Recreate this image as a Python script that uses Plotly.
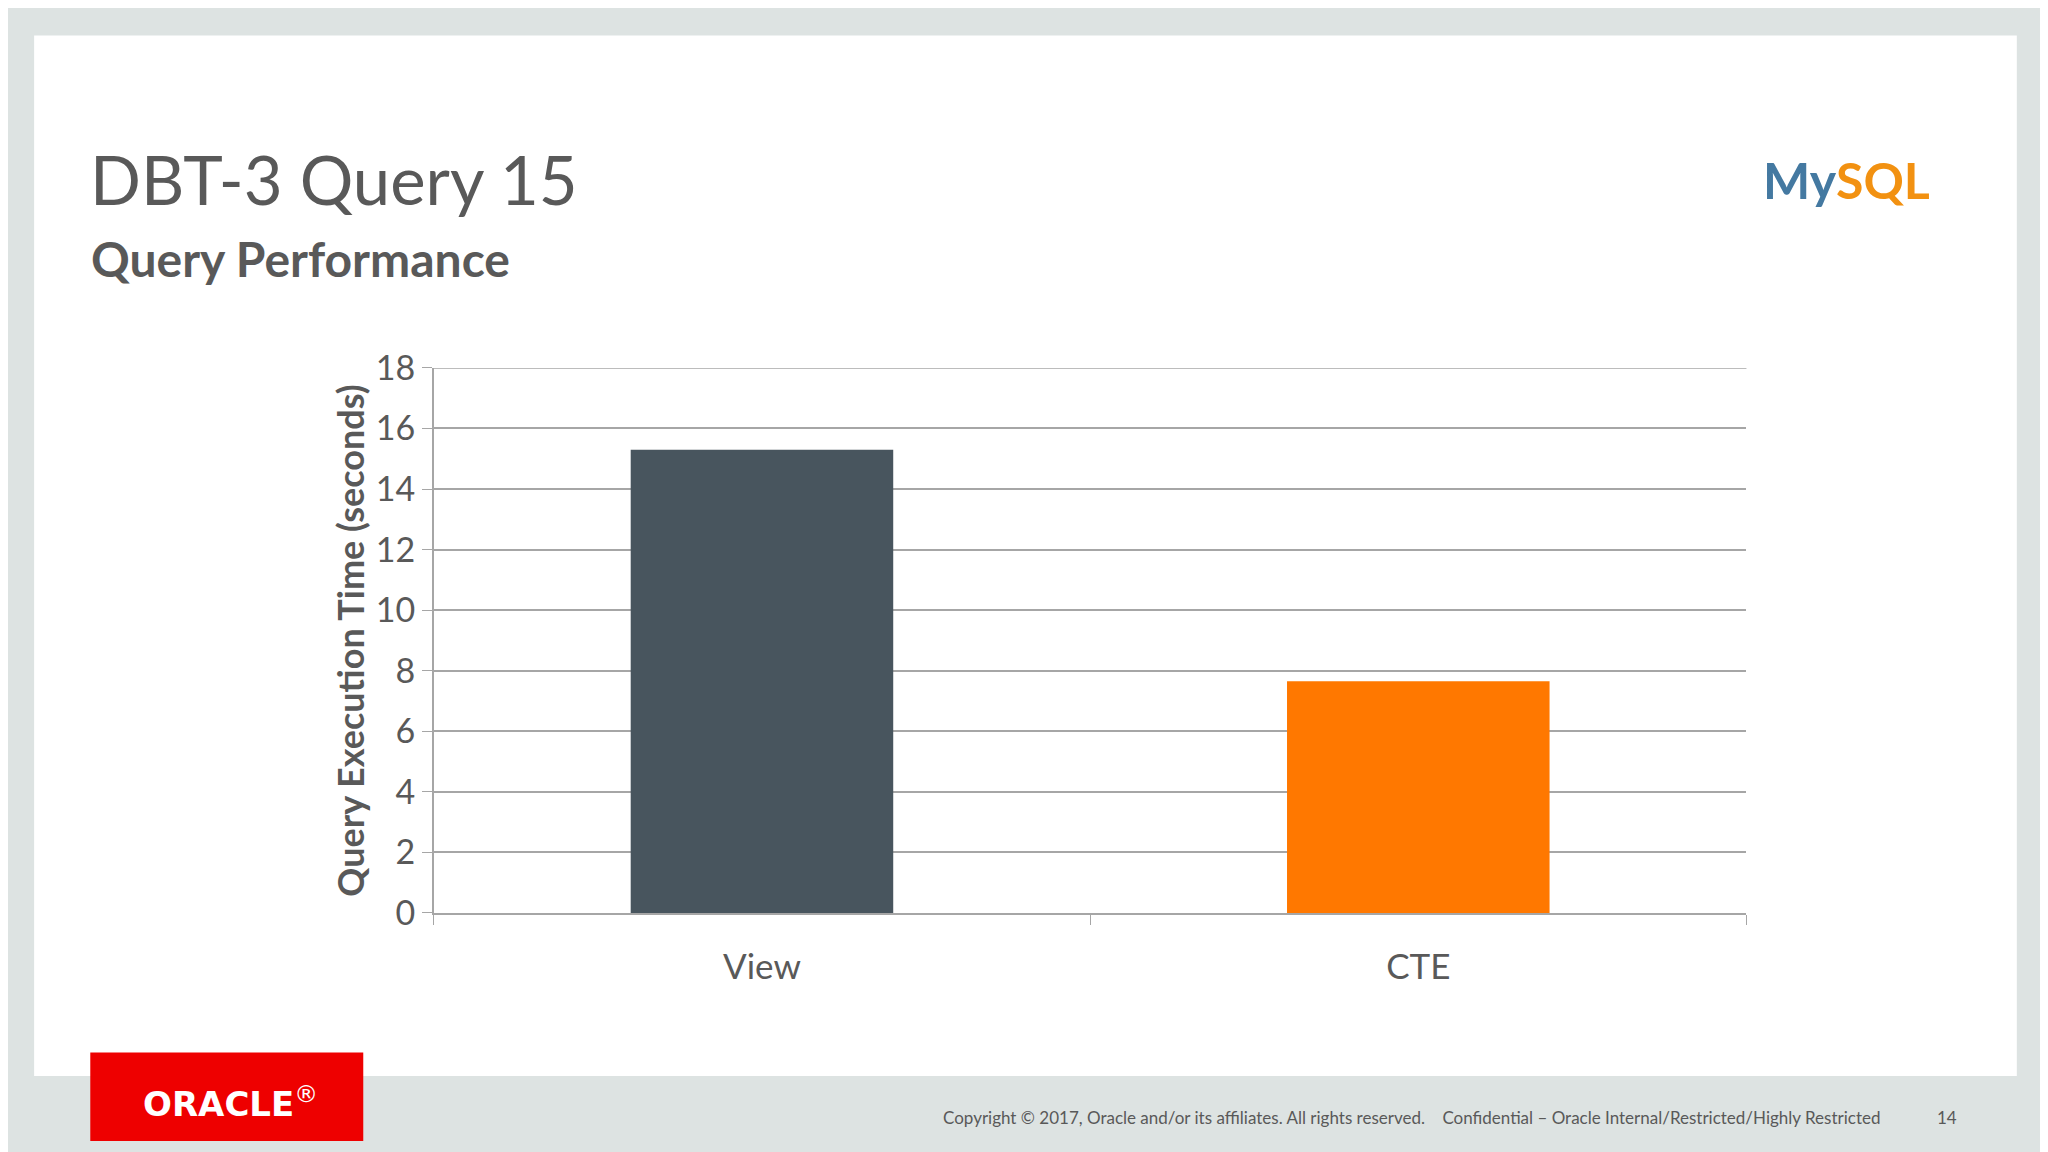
import plotly.graph_objects as go

# Chart data
categories = ["View", "CTE"]
exec_times = [15.3, 7.65]
bar_colors = ["#48555e", "#ff7800"]
y_ticks = [0, 2, 4, 6, 8, 10, 12, 14, 16, 18]

FONT = "Lato"
S = 2048 / 1568  # layout measured on a 1568-wide view


def px(x):
    # horizontal position (1568-view units) -> paper fraction
    return (x - 5) * S / 2048


def py(y):
    # vertical position (1568-view units, from top) -> paper fraction
    yy = 25 + (y - 45) / 0.966
    return 1 - yy * S / 1152


fig = go.Figure()

fig.add_trace(go.Bar(
    x=categories,
    y=exec_times,
    marker=dict(color=bar_colors, line=dict(width=0)),
    width=0.4,
    showlegend=False
))

fig.update_layout(
    width=2048,
    height=1152,
    margin=dict(l=0, r=0, t=0, b=0),
    paper_bgcolor="#dde3e2",
    plot_bgcolor="rgba(0,0,0,0)",
    font=dict(family=FONT, color="#595959"),
    xaxis=dict(
        domain=[px(331), px(1336)],
        showline=True, linecolor="#a6a6a6", linewidth=1.5,
        ticks="outside", tickson="boundaries", ticklen=10, tickcolor="#a6a6a6",
        tickfont=dict(size=35, color="#595959"),
        ticklabelstandoff=22,
        showgrid=False,
    ),
    yaxis=dict(
        domain=[py(698), py(280)],
        range=[0, 18],
        tickvals=y_ticks,
        showline=True, linecolor="#a6a6a6", linewidth=1.5,
        ticks="outside", ticklen=10, tickcolor="#a6a6a6",
        gridcolor="#a6a6a6", gridwidth=1.5,
        tickfont=dict(size=34, color="#595959"),
        title=dict(text="<b>Query Execution Time (seconds)</b>",
                   font=dict(size=36, color="#595959"), standoff=0),
        zeroline=False,
    ),
    shapes=[
        # white slide area
        dict(type="rect", xref="paper", yref="paper", layer="below",
             x0=px(25), x1=px(1543), y0=py(823), y1=py(25),
             fillcolor="white", line=dict(width=0)),
        # top gridline
        dict(type="line", xref="x domain", yref="y", x0=0, x1=1, y0=18, y1=18,
             line=dict(color="#a6a6a6", width=1.5)),
        # Oracle red box
        dict(type="rect", xref="paper", yref="paper",
             x0=px(68), x1=px(277), y0=0, y1=py(805),
             fillcolor="#ee0000", line=dict(width=0)),
    ],
    annotations=[
        dict(text="DBT-3 Query 15", xref="paper", yref="paper",
             x=px(66), y=py(135), xanchor="left", yanchor="middle",
             showarrow=False, font=dict(size=67, color="#595959", family=FONT)),
        dict(text="<b>Query Performance</b>", xref="paper", yref="paper",
             x=px(67), y=py(196), xanchor="left", yanchor="middle",
             showarrow=False, font=dict(size=48, color="#595959", family=FONT)),
        dict(text="<b><span style='color:#4479a1'>My</span><span style='color:#f29111'>SQL</span></b>",
             xref="paper", yref="paper",
             x=px(1478), y=py(136), xanchor="right", yanchor="middle",
             showarrow=False, font=dict(size=50, family=FONT)),
        dict(text="<b>ORACLE</b><sup>®</sup>", xref="paper", yref="paper",
             x=px(175), y=py(843), xanchor="center", yanchor="middle",
             showarrow=False, font=dict(size=34, color="white", family="DejaVu Sans")),
        dict(text="Copyright © 2017, Oracle and/or its affiliates. All rights reserved.    "
                  "Confidential – Oracle Internal/Restricted/Highly Restricted",
             xref="paper", yref="paper",
             x=px(1440), y=py(855), xanchor="right", yanchor="middle",
             showarrow=False, font=dict(size=17, color="#595959", family=FONT)),
        dict(text="14", xref="paper", yref="paper",
             x=px(1499), y=py(855), xanchor="right", yanchor="middle",
             showarrow=False, font=dict(size=17, color="#595959", family=FONT)),
    ],
)

fig.write_html("out.html")
